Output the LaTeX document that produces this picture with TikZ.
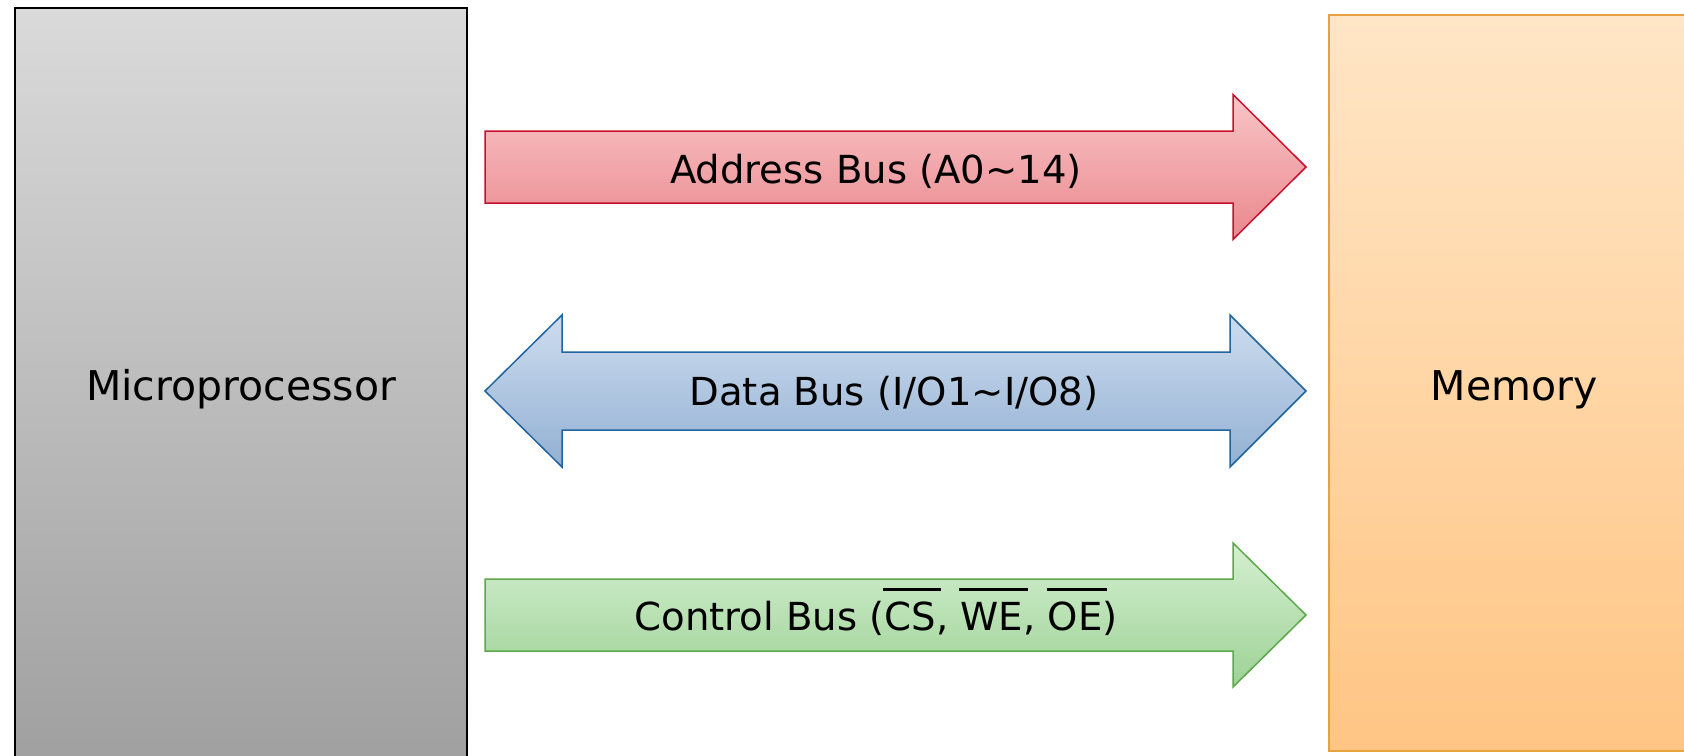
\documentclass[tikz,border=0pt]{standalone}
\usepackage{fontspec}
\setmainfont{DejaVu Sans}
\newcommand\ovbar[1]{\setbox0=\hbox{#1}\rlap{\kern-0.03em\rule[1.02em]{\dimexpr\wd0+0.15em\relax}{0.07em}}\box0}
\definecolor{microtop}{HTML}{DADADA}
\definecolor{microbot}{HTML}{A0A0A0}
\definecolor{memtop}{HTML}{FFE6C6}
\definecolor{membot}{HTML}{FFC584}
\definecolor{memline}{HTML}{E6A23C}
\definecolor{addrtop}{HTML}{F9C5C7}
\definecolor{addrbot}{HTML}{EA888D}
\definecolor{addrline}{HTML}{C8102E}
\definecolor{datatop}{HTML}{CEDDEF}
\definecolor{databot}{HTML}{92B0D3}
\definecolor{dataline}{HTML}{21649E}
\definecolor{ctrltop}{HTML}{D5EFD1}
\definecolor{ctrlbot}{HTML}{9DD296}
\definecolor{ctrlline}{HTML}{5DA84A}
\tikzset{
  boxlabel/.style={anchor=base, inner sep=0pt, font=\fontsize{20.5}{24}\selectfont},
  buslabel/.style={anchor=base, inner sep=0pt, font=\fontsize{19.3}{23}\selectfont},
  busshape/.style={line width=0.75pt, line join=miter},
}
\begin{document}
\begin{tikzpicture}[x=0.5pt, y=-0.5pt]
\clip (0,0) rectangle (1684,755);
\fill[white] (0,0) rectangle (1684,755);
% boxes
\path[draw=black, line width=1pt, top color=microtop, bottom color=microbot]
  (15,7.5) rectangle (467,760);
\path[draw=memline, line width=0.75pt, top color=memtop, bottom color=membot]
  (1329,15) rectangle (1700,751);
\node[boxlabel] (micro) at (241,400.6) {Microprocessor};
\node[boxlabel] (mem) at (1514,400.6) {Memory};
% address bus
\path[busshape, draw=addrline, top color=addrtop, bottom color=addrbot]
  (485,131) -- (1233,131) -- (1233,94.5) -- (1306,167) -- (1233,239.5)
  -- (1233,203) -- (485,203) -- cycle;
\node[buslabel] (addr) at (876,183) {Address Bus (A0\char"007E 14)};
% data bus
\path[busshape, draw=dataline, top color=datatop, bottom color=databot]
  (485,391) -- (562,315) -- (562,352) -- (1230,352) -- (1230,315) -- (1306,391)
  -- (1230,467) -- (1230,430) -- (562,430) -- (562,467) -- cycle;
\node[buslabel] (data) at (894,405) {Data Bus (I/O1\char"007E I/O8)};
% control bus
\path[busshape, draw=ctrlline, top color=ctrltop, bottom color=ctrlbot]
  (485,579) -- (1233,579) -- (1233,543) -- (1306,615) -- (1233,687)
  -- (1233,651) -- (485,651) -- cycle;
\node[buslabel] (ctrl) at (876,630) {Control Bus (\ovbar{CS}, \ovbar{WE}, \ovbar{OE})};
\end{tikzpicture}
\end{document}
